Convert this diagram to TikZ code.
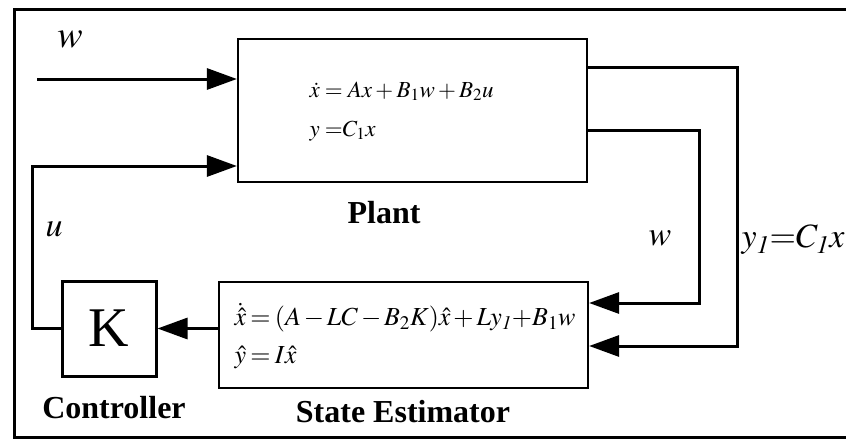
\documentclass[tikz,border=0pt]{standalone}
\usepackage{mathptmx}
\usepackage{fontspec}
\setmainfont{Liberation Serif}
\usetikzlibrary{arrows.meta}

\begin{document}
\begin{tikzpicture}[
  x=1pt, y=-1pt,
  block/.style={draw=black, line width=2.2pt, inner sep=0pt},
  conn/.style={line width=3pt, -{Triangle[length=30pt,width=21pt]}},
  title/.style={font=\fontsize{32}{34}\selectfont\bfseries},
  sig/.style={font=\fontsize{34}{38}\selectfont}
]
  \useasboundingbox (0,0) rectangle (846,439);

  % Marco exterior
  \draw[line width=3pt] (850,9) -- (14,9) -- (14,437) -- (850,437);

  % Bloques principales
  \node[block, minimum width=349pt, minimum height=143pt] (plant) at (412.5,110.5) {};
  \node[block, minimum width=369pt, minimum height=106pt] (est) at (403.5,335) {};
  \node[block, line width=3pt, minimum width=94pt, minimum height=95pt, font=\fontsize{56}{60}\selectfont] (ctrl) at (109,328.5) {K};

  % Ecuaciones dentro de los bloques
  \node[anchor=west, align=left, font=\fontsize{23}{39}\selectfont] (planteq) at (306,111.5)
    {$\dot{x} = Ax + B_1w + B_2u$\\$y\;{=}C_1x$};
  \node[anchor=west, align=left, font=\fontsize{26}{38}\selectfont] (esteq) at (231,336)
    {$\medmuskip=2mu\relax\thickmuskip=3mu\relax
      \dot{\hat{x}} = (A - LC - B_2K)\hat{x} + Ly_{\mathit{1}}{+}B_1w$\\%
     $\thickmuskip=3mu\relax\hat{y} = I\hat{x}$};

  % Etiquetas de los bloques
  \node[title] (plantlbl) at (384,213) {Plant};
  \node[title] (ctrllbl) at (114,408) {Controller};
  \node[title] (estlbl) at (403,412) {State Estimator};

  % Etiquetas de las senales
  \node[sig, font=\fontsize{38}{40}\selectfont] (wlbl) at (70,40) {$w$};
  \node[sig] (ulbl) at (54,229) {$u$};
  \node[sig] (w2lbl) at (660,238) {$w$};
  \node[sig, anchor=west] (ylbl) at (738,240) {$y_{\mathit{1}}{=}C_{\mathit{1}}x$};

  % Puntos de quiebre de las conexiones
  \coordinate (win) at (37,79);
  \coordinate (ucorner) at (32,166);
  \coordinate (yout) at (737,67);
  \coordinate (ybend) at (737,346);
  \coordinate (wout) at (699,130);
  \coordinate (wbend) at (699,303);

  % Conexiones
  \draw[conn] (win) -- (win -| plant.west);
  \draw[conn] (ctrl.west) -- (ctrl.west -| ucorner) -- (ucorner) -- (ucorner -| plant.west);
  \draw[conn] (plant.east |- yout) -- (yout) -- (ybend) -- (ybend -| est.east);
  \draw[conn] (plant.east |- wout) -- (wout) -- (wbend) -- (wbend -| est.east);
  \draw[conn] (est.west |- ctrl.east) -- (ctrl.east);

\end{tikzpicture}
\end{document}
